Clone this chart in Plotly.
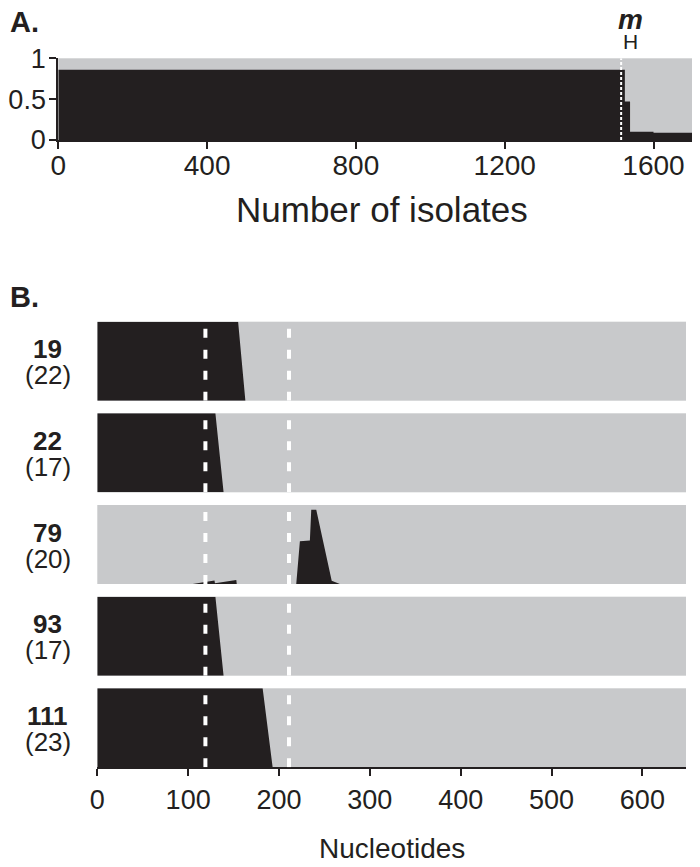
import plotly.graph_objects as go

# ---- data ----
# Panel A: proportion of the black cluster per isolate (step blocks)
isolate_edges = [0, 1523, 1537, 1600, 1725]
black_share = [0.86, 0.47, 0.10, 0.09, 0.09]
isolate_marker = 1513
isolate_ticks = [0, 400, 800, 1200, 1600]

# Panel B: sequence types, isolate counts and black share along the gene
st_names = ["19", "22", "79", "93", "111"]
st_counts = ["(22)", "(17)", "(20)", "(17)", "(23)"]
nt_pos = [
    [0, 155, 163, 648],
    [0, 130, 139, 648],
    [0, 105, 129, 129.5, 153, 153.5, 219, 223, 234, 235.5, 241, 258, 267, 648],
    [0, 130, 139, 648],
    [0, 182, 193, 648],
]
nt_share = [
    [1, 1, 0, 0],
    [1, 1, 0, 0],
    [0, 0, 0.045, 0.01, 0.05, 0, 0, 0.54, 0.55, 0.94, 0.94, 0.04, 0, 0],
    [1, 1, 0, 0],
    [1, 1, 0, 0],
]
nt_breaks = [119, 211]
nt_ticks = [0, 100, 200, 300, 400, 500, 600]

BLACK = "#231f20"
GREY = "#c8c9cb"
FONT = "Liberation Sans, Arial, sans-serif"
# the page puts the figure 8px in from the corner, so the figure is 8px smaller
OFF = 8
W, H = 700 - OFF, 867 - OFF


def px(x):
    return (x - OFF) / W


def py(y):
    return 1 - (y - OFF) / H


fig = go.Figure()

# panel A
fig.add_trace(go.Scatter(
    x=isolate_edges, y=black_share, mode="lines", line_shape="hv",
    line=dict(width=0, color=BLACK), fill="tozeroy", fillcolor=BLACK,
    xaxis="x", yaxis="y", showlegend=False, hoverinfo="skip"
))
fig.add_shape(type="line", xref="x", yref="y", x0=isolate_marker, x1=isolate_marker,
              y0=0, y1=1, line=dict(color="white", width=2, dash="3px,2px"))

axis_common = dict(showgrid=False, zeroline=False, ticks="outside", ticklen=7,
                   tickwidth=2, tickcolor=BLACK, linecolor=BLACK, linewidth=2,
                   automargin=False,
                   tickfont=dict(family=FONT, size=28, color=BLACK))

layout = dict(
    width=W, height=H, margin=dict(l=0, r=0, t=0, b=0, autoexpand=False),
    paper_bgcolor="white", plot_bgcolor=GREY, showlegend=False,
    xaxis=dict(axis_common, domain=[px(58.3), 1.0], range=[0, 1725],
               tickvals=isolate_ticks, showline=True, anchor="y",
               ticklabelstandoff=-8),
    yaxis=dict(axis_common, domain=[py(140), py(58.3)], range=[0, 1],
               tickvals=[0, 0.5, 1], ticktext=["0", "0.5", "1"], showline=True, anchor="x",
               ticklabelstandoff=-2),
)
layout["yaxis"]["tickfont"] = dict(family=FONT, size=27, color=BLACK)

# panel B rows
row_top = [321.7, 413.3, 505, 596.7, 688.3]
row_h = 79
for i in range(5):
    n = i + 2
    fig.add_trace(go.Scatter(
        x=nt_pos[i], y=nt_share[i], mode="lines",
        line=dict(width=0, color=BLACK), fill="tozeroy", fillcolor=BLACK,
        xaxis=f"x{n}", yaxis=f"y{n}", showlegend=False, hoverinfo="skip"
    ))
    last = i == 4
    xa = dict(axis_common, domain=[px(97.3), px(686)], range=[0, 648],
              tickvals=nt_ticks, anchor=f"y{n}",
              showline=last, showticklabels=last, ticks="outside" if last else "")
    xa["tickfont"] = dict(family=FONT, size=27, color=BLACK)
    layout[f"xaxis{n}"] = xa
    layout[f"yaxis{n}"] = dict(domain=[py(row_top[i] + row_h), py(row_top[i])],
                               range=[0, 1], visible=False, anchor=f"x{n}")
    for b in nt_breaks:
        fig.add_shape(type="line", xref=f"x{n}", yref=f"y{n}", x0=b, x1=b, y0=0, y1=1,
                      line=dict(color="white", width=4, dash="9px,12px"))

ann = []


def text(s, x, y, size, bold=False, xanchor="center"):
    ann.append(dict(text=f"<b>{s}</b>" if bold else s, x=px(x), y=py(y),
                    xref="paper", yref="paper", xanchor=xanchor, yanchor="middle",
                    showarrow=False, font=dict(family=FONT, size=size, color=BLACK)))


text("A.", 8, 22, 29, bold=True, xanchor="left")
text("B.", 8, 297, 29, bold=True, xanchor="left")
text("<i>m</i>", 630.5, 19, 28, bold=True)
text("H", 630.5, 41, 21)
text("Number of isolates", 382, 209, 35)
text("Nucleotides", 392, 848, 28)
for i in range(5):
    c = row_top[i] + row_h / 2
    text(st_names[i], 47.5, c - 12, 26, bold=True)
    text(st_counts[i], 48, c + 14, 26)

layout["annotations"] = ann
fig.update_layout(**layout)
fig.write_html("out.html")
